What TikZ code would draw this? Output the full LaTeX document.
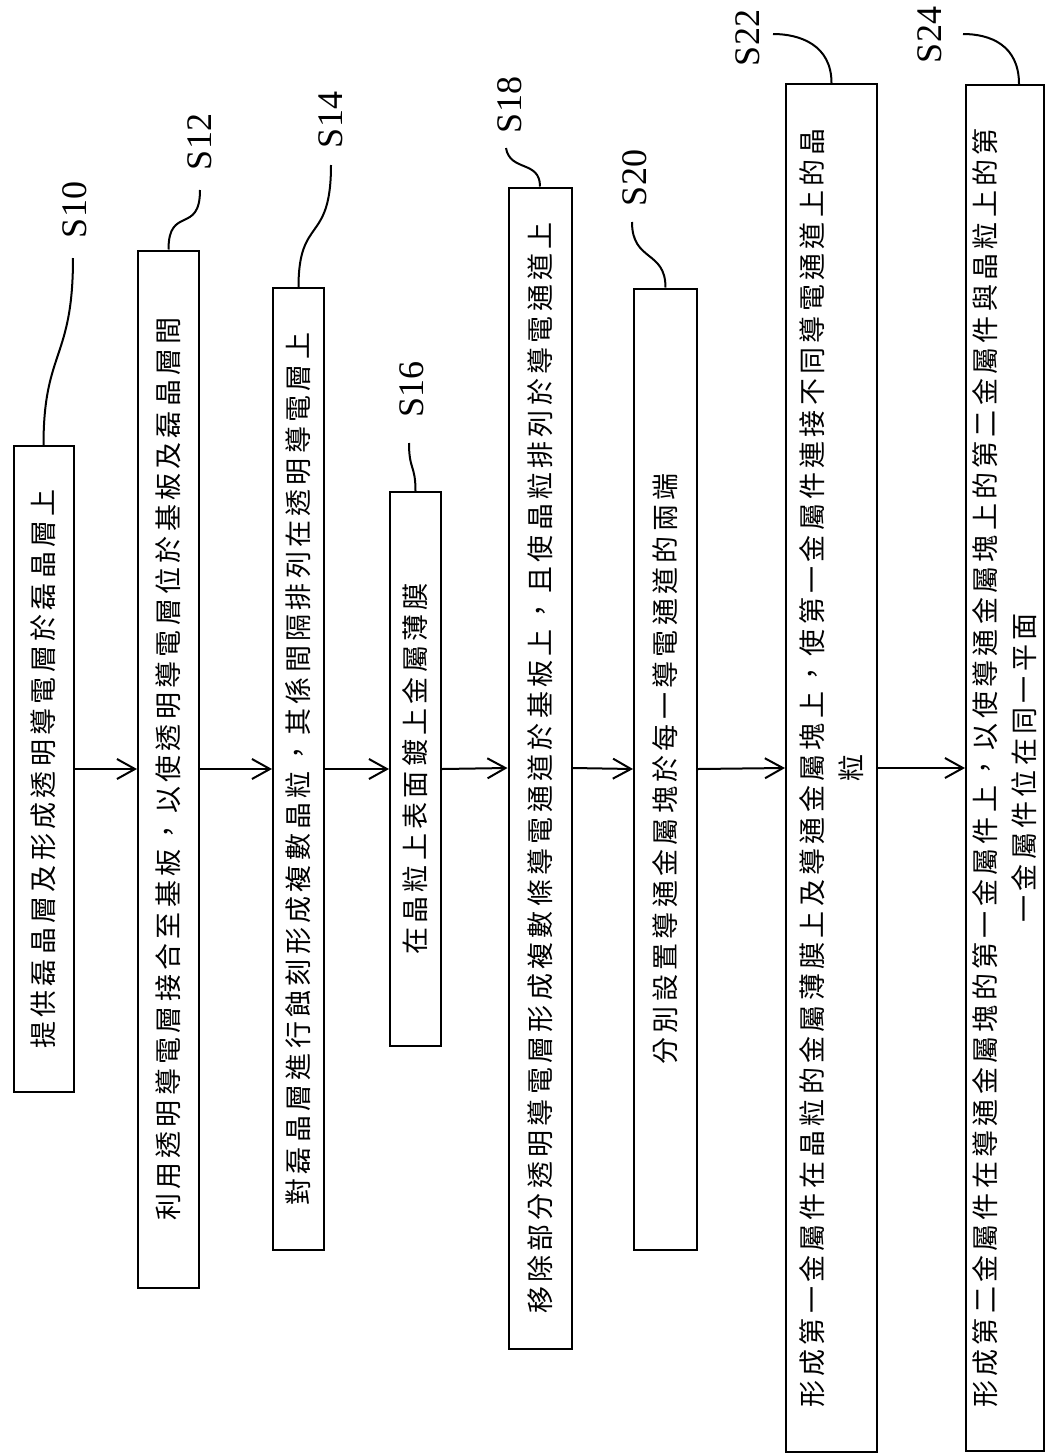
\documentclass[tikz,border=0pt]{standalone}
\usepackage{fontspec}
\setmainfont{Liberation Serif}
\newfontfamily\cjkfont[LetterSpace=16]{Noto Sans CJK TC}
\usetikzlibrary{arrows.meta,calc}

\begin{document}
\begin{tikzpicture}[x=1pt,y=-1pt,
  stepbox/.style={draw,line width=2pt,rotate=90,inner sep=0pt,align=center,
    font=\cjkfont\fontsize{27}{39}\selectfont},
  steplabel/.style={rotate=90,inner sep=0pt,font=\fontsize{36}{40}\selectfont},
  flow/.style={line width=2pt,-{Straight Barb[length=18pt,width=20pt,line width=2pt]}},
  leader/.style={line width=2pt}]
\path[use as bounding box] (0,0) rectangle (1050,1456);

% steps
\node[stepbox,minimum width=646pt,minimum height=60pt] (s10) at (43.5,769) {提供磊晶層及形成透明導電層於磊晶層上};
\node[stepbox,minimum width=1037pt,minimum height=61pt] (s12) at (168.5,769) {利用透明導電層接合至基板，以使透明導電層位於基板及磊晶層間};
\node[stepbox,minimum width=962pt,minimum height=51pt] (s14) at (298.5,769) {對磊晶層進行蝕刻形成複數晶粒，其係間隔排列在透明導電層上};
\node[stepbox,minimum width=554pt,minimum height=51pt] (s16) at (415.5,769) {在晶粒上表面鍍上金屬薄膜};
\node[stepbox,minimum width=1161pt,minimum height=63pt] (s18) at (540,768) {移除部分透明導電層形成複數條導電通道於基板上，且使晶粒排列於導電通道上};
\node[stepbox,minimum width=961pt,minimum height=63pt] (s20) at (665.5,769) {分別設置導通金屬塊於每一導電通道的兩端};
\node[stepbox,minimum width=1368pt,minimum height=91pt] (s22) at (831.5,768) {形成第一金屬件在晶粒的金屬薄膜上及導通金屬塊上，使第一金屬件連接不同導電通道上的晶\\粒};
\node[stepbox,minimum width=1366pt,minimum height=78pt] (s24) at (1005,768) {形成第二金屬件在導通金屬塊的第一金屬件上，以使導通金屬塊上的第二金屬件與晶粒上的第\\一金屬件位在同一平面};

% labels
\node[steplabel] (t10) at (74.5,210) {S10};
\node[steplabel] (t12) at (200,142) {S12};
\node[steplabel] (t14) at (330.5,120) {S14};
\node[steplabel] (t16) at (411.5,389) {S16};
\node[steplabel] (t18) at (510,105) {S18};
\node[steplabel] (t20) at (635,178) {S20};
\node[steplabel] (t22) at (748,38) {S22};
\node[steplabel] (t24) at (930,35) {S24};

\coordinate (e10) at (73,258);
\coordinate (e12) at (200,190);
\coordinate (e14) at (331,165);
\coordinate (e16) at (409,443);
\coordinate (e18) at (506,148);
\coordinate (e20) at (632,222);
\coordinate (e22) at (773,34);
\coordinate (e24) at (963,34);

\draw[leader] (s10.east) .. controls (43.5,350) and (73,360) .. (e10);
\draw[leader] (s12.east) .. controls (168.5,205) and (200,235) .. (e12);
\draw[leader] (s14.east) .. controls (298.5,215) and (331,245) .. (e14);
\draw[leader] (s16.east) .. controls (415.5,465) and (409,470) .. (e16);
\draw[leader] (s18.east) .. controls (540,160) and (510,172) .. (e18);
\draw[leader] (s20.east) .. controls (665.5,250) and (632,262) .. (e20);
\draw[leader] (s22.east) .. controls (831.5,45) and (800,34) .. (e22);
\draw[leader] ($(s24.east)+(14,0)$) .. controls (1019,45) and (990,34) .. (e24);

% flow
\draw[flow] (s10.south) -- (s12.north);
\draw[flow] (s12.south) -- (s14.north);
\draw[flow] (s14.south) -- (s16.north);
\draw[flow] (s16.south) -- (s18.north);
\draw[flow] (s18.south) -- (s20.north);
\draw[flow] (s20.south) -- (s22.north);
\draw[flow] (s22.south) -- (s24.north);
\end{tikzpicture}
\end{document}
